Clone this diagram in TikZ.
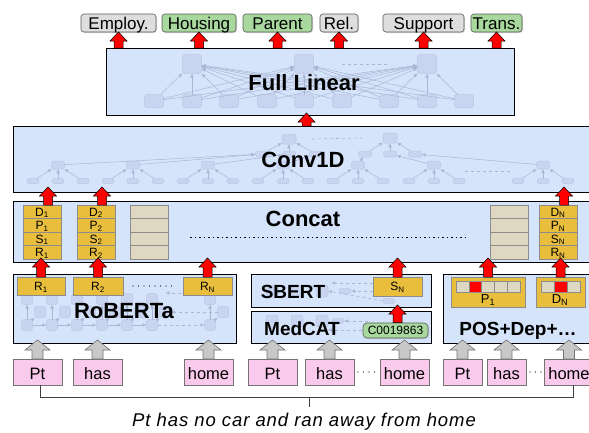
\documentclass[tikz,border=0pt]{standalone}
\usepackage{fontspec}
\setmainfont{Liberation Sans}
\usetikzlibrary{calc,shadows,arrows.meta}
\definecolor{panel}{RGB}{214,228,251}
\definecolor{gold}{RGB}{232,190,60}
\definecolor{beige}{RGB}{222,216,194}
\definecolor{pinktok}{RGB}{250,202,236}
\definecolor{greenlab}{RGB}{168,216,158}
\definecolor{graylab}{RGB}{222,222,222}
\definecolor{faintfill}{RGB}{200,212,240}
\definecolor{faintdraw}{RGB}{186,198,228}
\definecolor{faintline}{RGB}{170,182,212}
\definecolor{arrgray}{RGB}{200,200,200}
\definecolor{cellline}{RGB}{140,140,140}
\newcommand\rbox[7]{\node[#2, minimum width={#5-#3}, minimum height={#6-#4}] (#1) at ({(#3+#5)/2},{(#4+#6)/2}) {#7};}
\newcommand\blockup[6]{\draw[#1] let \p1=(#2), \p2=(#3) in
  ({\x1-#4pt},\y1) -- ({\x1-#4pt},{\y2-#6pt}) -- ({\x1-#5pt},{\y2-#6pt}) -- (\x1,\y2)
  -- ({\x1+#5pt},{\y2-#6pt}) -- ({\x1+#4pt},{\y2-#6pt}) -- ({\x1+#4pt},\y1) -- cycle;}
\tikzset{
  panelbox/.style={draw=black, line width=0.9pt, fill=panel, inner sep=0pt, outer sep=0pt},
  title/.style={font=\fontsize{22}{24}\selectfont\bfseries, inner sep=0pt, anchor=base},
  subtitle/.style={font=\fontsize{19}{22}\selectfont\bfseries, inner sep=0pt, anchor=base},
  lab/.style={draw=black!65, line width=0.6pt, rounded corners=3pt, inner sep=0pt, outer sep=0pt,
    font=\fontsize{17}{19}\selectfont, text height=12pt, text depth=0pt,
    drop shadow={shadow xshift=1pt, shadow yshift=-1pt, opacity=0.3}},
  graylabel/.style={lab, fill=graylab},
  greenlabel/.style={lab, fill=greenlab},
  goldbox/.style={draw=cellline, line width=0.6pt, fill=gold, inner sep=0pt, outer sep=0pt,
    font=\fontsize{12}{14}\selectfont, text height=8.6pt, text depth=0pt},
  beigecell/.style={draw=cellline, line width=0.6pt, fill=beige, inner sep=0pt, outer sep=0pt},
  redcell/.style={draw=cellline, line width=0.6pt, fill=red, inner sep=0pt, outer sep=0pt},
  tok/.style={draw=black!55, line width=0.6pt, fill=pinktok, inner sep=0pt, outer sep=0pt,
    font=\fontsize{16.5}{18}\selectfont, text height=14pt, text depth=0pt},
  redarr/.style={fill=red, draw=black, line width=0.5pt},
  grayarr/.style={fill=arrgray, draw=black!55, line width=0.6pt},
  fnode/.style={draw=faintdraw, fill=faintfill, rounded corners=2.5pt, inner sep=0pt, outer sep=0pt, line width=0.5pt},
  fpill/.style={fnode, minimum width=12, minimum height=5},
  fedge/.style={draw=faintline, line width=0.5pt, -{Latex[length=4pt,width=3.5pt]}},
  fdash/.style={draw=faintline, line width=0.6pt, dashed},
  fdasharr/.style={draw=faintline, line width=0.6pt, dashed, -{Latex[length=4pt,width=3.5pt]}},
  brk/.style={draw=black!75, line width=0.7pt},
  dotsline/.style={draw=black, line width=1.2pt, line cap=round, dash pattern=on 0pt off 5.5pt},
  densedots/.style={draw=black, line width=0.9pt, dash pattern=on 1.5pt off 3pt},
}
\begin{document}
\begin{tikzpicture}[x=1pt,y=-1pt]
\useasboundingbox (0,0) rectangle (589,432);
% ---------- panels
\rbox{fl}{panelbox}{106}{48}{514}{115}{}
\rbox{cv}{panelbox}{13}{126}{600}{192}{}
\rbox{cc}{panelbox}{13}{201}{600}{262}{}
\rbox{rb}{panelbox}{13}{274}{236}{343}{}
\rbox{sb}{panelbox}{251}{274}{431}{307}{}
\rbox{mc}{panelbox}{251}{311}{431}{343}{}
\rbox{ps}{panelbox}{443}{274}{600}{343}{}
% ---------- faint network: Full Linear
\foreach \x [count=\i] in {154,192,229,267,304,342,389,427,464}
  \node[fnode, minimum width=19, minimum height=13] (fb\i) at (\x,101) {};
\foreach \x [count=\i] in {192,304,427}
  \node[fnode, minimum width=19, minimum height=19] (ft\i) at (\x,64) {};
\foreach \i in {1,...,9}{\foreach \j in {1,2,3}{\draw[fedge] (fb\i) -- (ft\j);}}
\draw[fdash] ([xshift=28pt]ft2.east) -- ([xshift=-28pt]ft3.west);
% ---------- faint tree: Conv1D
\foreach \x [count=\i] in {58,133,208,283,358,434,543}{
  \node[fnode, minimum width=13, minimum height=8] (cp\i) at (\x,165) {};
  \node[fpill] (cla\i) at (\x-25,181) {};
  \node[fpill] (clb\i) at (\x,181) {};
  \node[fpill] (clc\i) at (\x+25,181) {};
  \draw[fedge] (cla\i) -- (cp\i);
  \draw[fedge] (clb\i) -- (cp\i);
  \draw[fedge] (clc\i) -- (cp\i);
}
\foreach \x [count=\i] in {262,289,316,365,390,415}
  \node[fnode, minimum width=13, minimum height=6] (cm\i) at (\x,154) {};
\node[fnode, minimum width=14, minimum height=10] (ctop1) at (289,139) {};
\node[fnode, minimum width=14, minimum height=10] (ctop2) at (390,138) {};
\foreach \i in {1,2,3} \draw[fedge] (cm\i) -- (ctop1);
\foreach \i in {4,5,6} \draw[fedge] (cm\i) -- (ctop2);
\foreach \a/\b in {1/1,2/1,3/2,4/3,5/4,6/5,7/6} \draw[fedge] (cp\a) -- (cm\b);
\draw[fdash] ([xshift=16pt]ctop1.east) -- ([xshift=-21pt]ctop2.west);
\draw[fdash] ($(clc6.east)+(0,-10)$) -- ($(cla7.west)+(0,-10)$);
% ---------- faint: RoBERTa
\foreach \x [count=\i] in {27,52,77,102,127,152,210}{
  \node[fnode, minimum size=11] (rbt\i) at (\x,299) {};
  \node[fnode, minimum size=11] (rbb\i) at (\x,325) {};
  \node[fnode, minimum size=11] (rbm\i) at (\x+13,312) {};
  \draw[fedge] (rbb\i) -- (rbt\i);
  \draw[fedge] (rbb\i) -- (rbm\i);
}
\foreach \i/\j in {1/2,2/3,3/4,4/5,5/6} \draw[fedge] (rbb\i) -- (rbb\j);
\draw[fdasharr] (rbb6) -- (rbb7);
\draw[fdasharr] (rbm7) -- (rbm6);
\draw[fdasharr] ($(rbt7.west)+(0,-6)$) -- ($(rbt6.east)+(8,-6)$);
% ---------- faint: SBERT / MedCAT
\foreach \x [count=\i] in {272,297,322}{
  \node[fnode, minimum size=12] (sbq\i) at (\x,291) {};
  \node[fnode, minimum size=12] (mcq\i) at (\x,321) {};
}
\node[fpill] (sbp1) at (345,291) {};
\node[fpill] (sbp2) at (389,301) {};
\node[fpill] (mcp1) at (338,321) {};
\draw[fdasharr] ([xshift=28pt,yshift=8pt]sbp1.east) -- ([xshift=-8pt,yshift=8pt]sbp1.west);
\draw[fdasharr] ([xshift=22pt]sbp1.east) -- (sbp1.east);
\draw[fdasharr] (sbp2.west) -- (sbq3.east);
\draw[fdasharr] ([xshift=24pt]mcp1.east) -- (mcp1.east);
\draw[fdasharr] ([xshift=24pt,yshift=-9pt]mcp1.east) -- ([yshift=-9pt]mcq3.east);
% ---------- titles
\node[title] (fltxt) at (304,90) {Full Linear};
\node[title] (cvtxt) at (303,167) {Conv1D};
\node[title] (cctxt) at (303,226) {Concat};
\node[title] (rbtxt) at (124,318) {RoBERTa};
\node[subtitle] (sbtxt) at (293,298) {SBERT};
\node[subtitle] (mctxt) at (302,335) {MedCAT};
\node[subtitle] (pstxt) at (518,335) {POS+Dep+…};
% ---------- concat stacks
\foreach \col/\cx/\sub in {1/42/1,2/96/2,3/558/N}{
  \foreach \L [count=\k] in {D,P,S,R}{
    \node[goldbox, minimum width=38, minimum height=13.5] (s\col\L) at (\cx,{205+13.5*(\k-0.5)}) {\L\textsubscript{\sub}};
  }
}
\foreach \cx [count=\c] in {149,509}{
  \foreach \k in {1,...,4}{
    \node[beigecell, minimum width=38, minimum height=13.5] (bc\c\k) at (\cx,{205+13.5*(\k-0.5)}) {};
  }
}
\coordinate (ccdl) at (190,237);
\coordinate (ccdr) at (468,237);
\draw[densedots] (ccdl) -- (ccdr);
% ---------- RoBERTa outputs
\rbox{r1}{goldbox}{17}{277}{65}{295}{R\textsubscript{1}}
\rbox{r2}{goldbox}{73}{277}{123}{295}{R\textsubscript{2}}
\rbox{rN}{goldbox}{183}{277}{232}{295}{R\textsubscript{N}}
\draw[dotsline] ([xshift=10pt]r2.east) -- ([xshift=-9pt]rN.west);
% ---------- SBERT / MedCAT
\rbox{sn}{goldbox}{373}{277}{422}{296}{S\textsubscript{N}}
\node[draw=black!65, line width=0.6pt, fill=greenlab, rounded corners=4pt, inner sep=0pt,
  minimum width=65, minimum height=15, font=\fontsize{12}{14}\selectfont,
  drop shadow={shadow xshift=1pt, shadow yshift=-1pt, opacity=0.3}] (cui) at (395.5,330.5) {C0019863};
% ---------- POS boxes
\rbox{p1}{goldbox}{451}{277}{525}{307}{}
\foreach \k in {1,...,5}{
  \ifnum\k=2 \def\cst{redcell}\else\def\cst{beigecell}\fi
  \node[\cst, minimum width=12.8, minimum height=11] (p1c\k) at ({456+12.8*(\k-0.5)},286.5) {};
}
\node[font=\fontsize{13}{15}\selectfont, inner sep=0pt] (p1lab) at (488,300) {P\textsubscript{1}};
\rbox{dn}{goldbox}{536}{277}{585}{307}{}
\foreach \k in {1,2,3}{
  \ifnum\k=2 \def\cst{redcell}\else\def\cst{beigecell}\fi
  \node[\cst, minimum width=13, minimum height=11] (dnc\k) at ({541+13*(\k-0.5)},286.5) {};
}
\node[font=\fontsize{13}{15}\selectfont, inner sep=0pt] (dnlab) at (560,300) {D\textsubscript{N}};
% ---------- output labels
\rbox{L1}{graylabel}{81}{14}{156}{32}{Employ.}
\rbox{L2}{greenlabel}{162}{14}{236}{32}{Housing}
\rbox{L3}{greenlabel}{243}{14}{312}{32}{Parent}
\rbox{L4}{graylabel}{320}{14}{358}{32}{Rel.}
\rbox{L5}{graylabel}{383}{14}{464}{32}{Support}
\rbox{L6}{greenlabel}{471}{14}{522}{32}{Trans.}
% ---------- tokens
\rbox{t1}{tok}{13}{359}{62}{385}{Pt}
\rbox{t2}{tok}{73}{359}{122}{385}{has}
\rbox{t3}{tok}{184}{359}{233}{385}{home}
\rbox{t4}{tok}{248}{359}{297}{385}{Pt}
\rbox{t5}{tok}{305}{359}{354}{385}{has}
\rbox{t6}{tok}{380}{359}{429}{385}{home}
\rbox{t7}{tok}{443}{359}{482}{385}{Pt}
\rbox{t8}{tok}{487}{359}{526}{385}{has}
\rbox{t9}{tok}{544}{359}{594}{385}{home}
\draw[dotsline] ([xshift=4pt]t5.east) -- ([xshift=-3pt]t6.west);
\draw[dotsline] ([xshift=4pt]t8.east) -- ([xshift=-3pt]t9.west);
% ---------- gray arrows tokens -> encoders
\foreach \tk/\pn in {t1/rb,t2/rb,t3/rb,t4/mc,t5/mc,t6/mc,t7/ps,t8/ps,t9/ps}{
  \blockup{grayarr}{\tk.north}{$(\tk.north |- \pn.south)+(0,-3)$}{5.5}{12.5}{10}
}
% ---------- red arrows
\foreach \lb in {L1,L2,L3,L4,L5,L6}{
  \blockup{redarr}{\lb.south |- fl.north}{\lb.south}{4.5}{8.5}{9}
}
\blockup{redarr}{cv.north}{$(cv.north |- fl.south)+(0,-2)$}{4.5}{8.5}{9}
\foreach \sk in {s1D,s2D,s3D}{
  \blockup{redarr}{$(\sk.north)+(6,0)$}{$(\sk.north |- cv.south)+(6,-5)$}{4.5}{8.5}{9}
}
\foreach \sk in {r1,r2,rN,sn,p1,dn}{
  \blockup{redarr}{\sk.north}{$(\sk.north |- cc.south)+(0,-4)$}{4.5}{8.5}{9}
}
\blockup{redarr}{sn.south |- cui.north}{$(sn.south |- sb.south)+(0,-2)$}{4.5}{8.5}{9}
% ---------- bracket and sentence
\draw[brk] ([xshift=3pt]t1.south) -- ++(0,12) -| ([xshift=4pt]t9.south);
\coordinate (bm) at (309,397);
\draw[brk] (bm) -- ++(0,10);
\node[font=\fontsize{18.5}{20}\selectfont\itshape\addfontfeature{LetterSpace=5}, inner sep=0pt, anchor=base] (sent) at (304,426) {Pt has no car and ran away from home};
\end{tikzpicture}
\end{document}
